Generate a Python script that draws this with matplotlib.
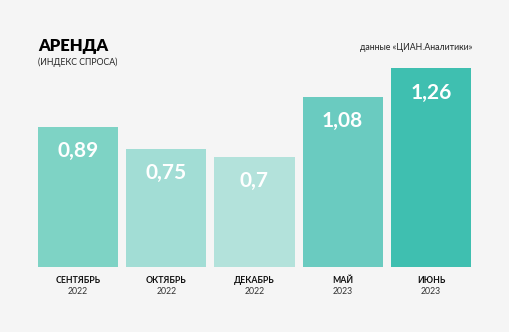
import matplotlib.pyplot as plt

# Data
months = ["СЕНТЯБРЬ", "ОКТЯБРЬ", "ДЕКАБРЬ", "МАЙ", "ИЮНЬ"]
years = ["2022", "2022", "2022", "2023", "2023"]
values = [0.89, 0.75, 0.70, 1.08, 1.26]
value_labels = ["0,89", "0,75", "0,7", "1,08", "1,26"]
colors = ["#7ed3c5", "#a2ddd5", "#b3e2db", "#6acbc0", "#3fbfb0"]

BG = "#f5f5f5"
plt.rcParams["font.family"] = ["Lato", "DejaVu Sans"]

fig = plt.figure(figsize=(5.1, 3.32), dpi=100, facecolor=BG)
ax = fig.add_axes([34 / 510, 65 / 332, 441 / 510, 205 / 332])
ax.set_facecolor(BG)

x = range(len(values))
ax.bar(x, values, width=80 / 88, color=colors)
ax.set_xlim(-0.5, len(values) - 0.5)
ax.set_ylim(0, 1.3)
ax.axis("off")

# value labels inside bars
for i, (v, lab) in enumerate(zip(values, value_labels)):
    ax.annotate(lab, (i, v), xytext=(0, -17.5), textcoords="offset points",
                ha="center", va="center", color="white",
                fontsize=15, fontweight="bold")

# category labels
for i, (m, y) in enumerate(zip(months, years)):
    ax.annotate(m, (i, 0), xytext=(0, -9.5), textcoords="offset points",
                ha="center", va="center", fontsize=6.3, fontweight="bold",
                color="#111111")
    ax.annotate(y, (i, 0), xytext=(0, -17.5), textcoords="offset points",
                ha="center", va="center", fontsize=6.3, color="#333333")

fig.text(38 / 510, 1 - 46 / 332, "АРЕНДА", fontsize=12, fontweight="heavy",
         ha="left", va="center", color="#000000")
fig.text(38 / 510, 1 - 62 / 332, "(ИНДЕКС СПРОСА)", fontsize=6.3,
         ha="left", va="center", color="#222222")
fig.text(472 / 510, 1 - 47 / 332, "данные «ЦИАН.Аналитики»", fontsize=6.3,
         ha="right", va="center", color="#222222")

fig.savefig("out.png", dpi=100, facecolor=BG)
